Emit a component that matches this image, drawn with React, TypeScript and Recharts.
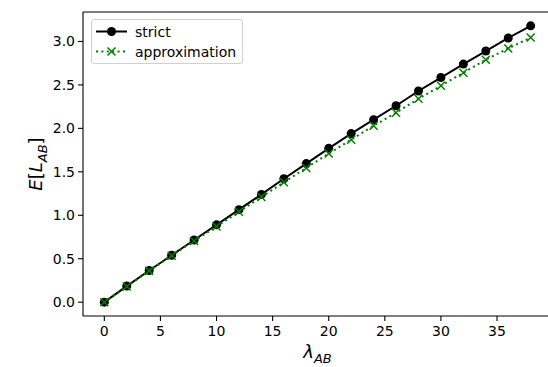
import React from 'react';
import { LineChart, Line, XAxis, YAxis, Legend, ReferenceLine } from 'recharts';

const lambdaValues = [0, 2, 4, 6, 8, 10, 12, 14, 16, 18, 20, 22, 24, 26, 28, 30, 32, 34, 36, 38];
const strictValues = [0, 0.185, 0.365, 0.54, 0.715, 0.89, 1.065, 1.24, 1.42, 1.595, 1.77, 1.94, 2.1, 2.26, 2.43, 2.585, 2.74, 2.89, 3.04, 3.18];
const approxValues = [0, 0.18, 0.36, 0.535, 0.705, 0.87, 1.04, 1.21, 1.38, 1.545, 1.71, 1.87, 2.03, 2.18, 2.34, 2.49, 2.64, 2.79, 2.92, 3.045];
const xTicks = [0, 5, 10, 15, 20, 25, 30, 35];
const yTicks = [0, 0.5, 1.0, 1.5, 2.0, 2.5, 3.0];
const xDomain = [-1.9, 39.9];
const yDomain = [-0.159, 3.339];

const data = lambdaValues.map((l, i) => ({
  lambda: l,
  strict: strictValues[i],
  approximation: approxValues[i],
}));

const FONT = '"DejaVu Sans", sans-serif';
const GREEN = '#008000';

const CircleDot = (props: any) => {
  const { cx, cy, index } = props;
  return <circle key={`c-${index}`} cx={cx} cy={cy} r={4.5} fill="#000" />;
};

const CrossDot = (props: any) => {
  const { cx, cy, index } = props;
  const s = 4;
  return (
    <path
      key={`x-${index}`}
      d={`M${cx - s},${cy - s}L${cx + s},${cy + s}M${cx - s},${cy + s}L${cx + s},${cy - s}`}
      stroke={GREEN}
      strokeWidth={1.5}
      fill="none"
    />
  );
};

const LegendBox = () => (
  <div
    style={{
      width: 150,
      height: 43,
      border: '1px solid #d0d0d0',
      borderRadius: 3,
      background: 'rgba(255,255,255,0.8)',
      fontFamily: FONT,
      fontSize: 14,
      color: '#000',
      position: 'relative',
    }}
  >
    <svg width={40} height={43} style={{ position: 'absolute', left: 0, top: 0 }}>
      <line x1={4} y1={11.5} x2={35} y2={11.5} stroke="#000" strokeWidth={2} />
      <circle cx={19.5} cy={11.5} r={4.5} fill="#000" />
      <line x1={4} y1={31.5} x2={35} y2={31.5} stroke={GREEN} strokeWidth={2} strokeDasharray="2 3.4" />
      <path d="M15.5,27.5L23.5,35.5M15.5,35.5L23.5,27.5" stroke={GREEN} strokeWidth={1.5} />
    </svg>
    <div style={{ position: 'absolute', left: 43, top: 2, lineHeight: '20px' }}>strict</div>
    <div style={{ position: 'absolute', left: 43, top: 22, lineHeight: '20px' }}>approximation</div>
  </div>
);

const XLabel = (props: any) => {
  const { viewBox } = props;
  const cx = viewBox.x + viewBox.width / 2;
  return (
    <text x={cx} y={358} textAnchor="middle" fontFamily={FONT} fontSize={18} fill="#000">
      <tspan fontStyle="italic">λ</tspan>
      <tspan fontStyle="italic" fontSize={13} dy={5}>AB</tspan>
    </text>
  );
};

const YLabel = (props: any) => {
  const { viewBox } = props;
  const cy = viewBox.y + viewBox.height / 2;
  const x = 42;
  return (
    <text
      x={x}
      y={cy}
      textAnchor="middle"
      transform={`rotate(-90, ${x}, ${cy})`}
      fontFamily={FONT}
      fontSize={18}
      fill="#000"
    >
      <tspan fontStyle="italic">E</tspan>
      <tspan>[</tspan>
      <tspan fontStyle="italic">L</tspan>
      <tspan fontStyle="italic" fontSize={13} dy={5}>AB</tspan>
      <tspan dy={-5}>]</tspan>
    </text>
  );
};

const tickStyle = { fontSize: 14, fill: '#000', fontFamily: FONT };

export default function App() {
  return (
    <div style={{ position: 'absolute', left: 0, top: 0, width: 548, height: 367, overflow: 'hidden', background: '#fff' }}>
      <LineChart width={600} height={367} data={data} margin={{ top: 12, right: 48, bottom: 0, left: 0 }}>
        <XAxis
          dataKey="lambda"
          type="number"
          domain={xDomain}
          ticks={xTicks}
          height={51}
          tickSize={5}
          tickMargin={5}
          tick={tickStyle}
          axisLine={{ stroke: '#000', strokeWidth: 1.1 }}
          tickLine={{ stroke: '#000', strokeWidth: 1.1 }}
          allowDataOverflow
          label={<XLabel />}
        />
        <YAxis
          type="number"
          domain={yDomain}
          ticks={yTicks}
          width={83}
          tickSize={5}
          tickMargin={3}
          tick={tickStyle}
          tickFormatter={(v: number) => v.toFixed(1)}
          axisLine={{ stroke: '#000', strokeWidth: 1.1 }}
          tickLine={{ stroke: '#000', strokeWidth: 1.1 }}
          allowDataOverflow
          label={<YLabel />}
        />
        <ReferenceLine y={yDomain[1]} stroke="#000" strokeWidth={1.1} ifOverflow="visible" />
        <Legend
          layout="vertical"
          align="center"
          verticalAlign="middle"
          wrapperStyle={{ left: 91, top: 19, width: 152, height: 45 }}
          content={<LegendBox />}
        />
        <Line
          dataKey="strict"
          type="linear"
          stroke="#000"
          strokeWidth={2}
          dot={<CircleDot />}
          activeDot={false}
          isAnimationActive={false}
        />
        <Line
          dataKey="approximation"
          type="linear"
          stroke={GREEN}
          strokeWidth={2}
          strokeDasharray="2 3.4"
          dot={<CrossDot />}
          activeDot={false}
          isAnimationActive={false}
        />
      </LineChart>
    </div>
  );
}
